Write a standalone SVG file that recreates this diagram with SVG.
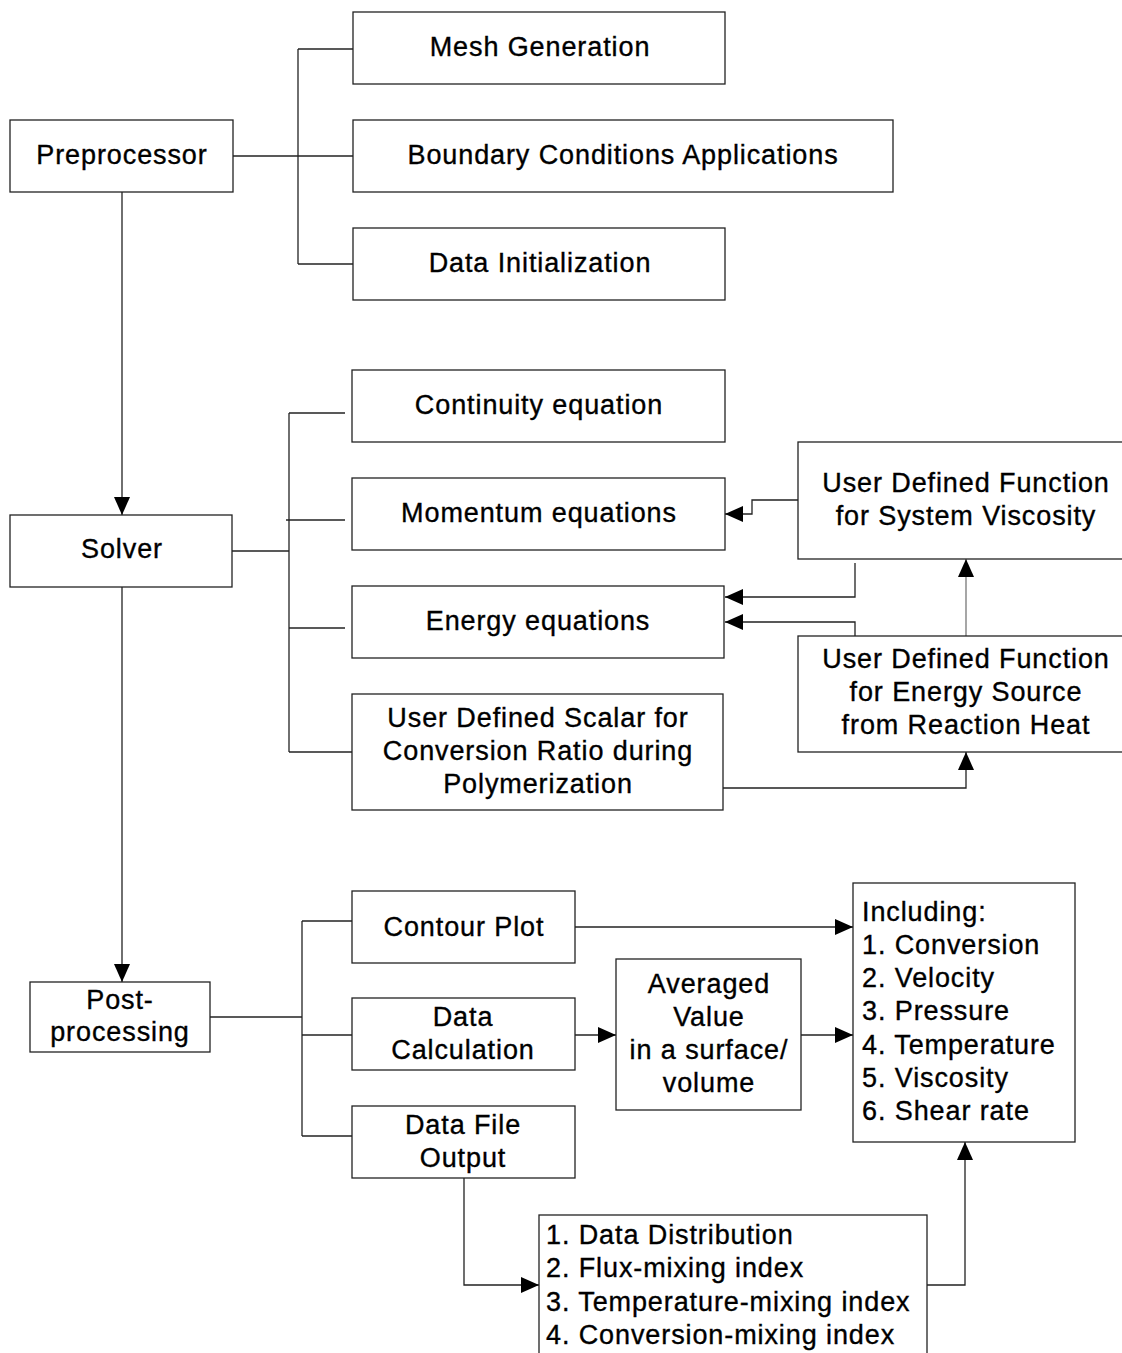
<svg xmlns="http://www.w3.org/2000/svg" width="1122" height="1353" viewBox="0 0 1122 1353">
<style>
.box{fill:#fff;stroke:#222;stroke-width:1.3}
.t{font-family:"Liberation Sans",Arial,sans-serif;font-size:27px;letter-spacing:0.9px;fill:#000;stroke:#000;stroke-width:0.35}
.c{text-anchor:middle}
.ln{fill:none;stroke:#222;stroke-width:1.3}
.g{stroke:#777}
</style>
<defs>
<marker id="ah" markerWidth="18" markerHeight="16" refX="18" refY="8" orient="auto" markerUnits="userSpaceOnUse">
<path d="M0,0 L18,8 L0,16 Z" fill="#000"/>
</marker>
</defs>
<rect width="1122" height="1353" fill="#fff"/>
<g id="connectors">
<path class="ln" d="M233,156 H353"/>
<path class="ln" d="M298,49 V264"/>
<path class="ln" d="M298,49 H353"/>
<path class="ln" d="M298,264 H353"/>
<path class="ln" d="M122,192 V515" marker-end="url(#ah)"/>
<path class="ln" d="M232,551 H289"/>
<path class="ln" d="M289,413 V752"/>
<path class="ln" d="M289,413 H345"/>
<path class="ln" d="M286,520 H345"/>
<path class="ln" d="M289,628 H345"/>
<path class="ln" d="M289,752 H352"/>
<path class="ln" d="M798,500 H752 V514 H725" marker-end="url(#ah)"/>
<path class="ln" d="M855,563 V597 H725" marker-end="url(#ah)"/>
<path class="ln" d="M855,636 V622 H725" marker-end="url(#ah)"/>
<path class="ln g" d="M966,636 V559" marker-end="url(#ah)"/>
<path class="ln" d="M723,788 H966 V752" marker-end="url(#ah)"/>
<path class="ln" d="M122,587 V982" marker-end="url(#ah)"/>
<path class="ln" d="M210,1017 H302"/>
<path class="ln" d="M302,921 V1136"/>
<path class="ln" d="M302,921 H358"/>
<path class="ln" d="M302,1035 H352"/>
<path class="ln" d="M302,1136 H358"/>
<path class="ln" d="M575,927 H853" marker-end="url(#ah)"/>
<path class="ln" d="M575,1035 H616" marker-end="url(#ah)"/>
<path class="ln" d="M801,1035 H853" marker-end="url(#ah)"/>
<path class="ln" d="M464,1178 V1285 H539" marker-end="url(#ah)"/>
<path class="ln" d="M927,1285 H965 V1142" marker-end="url(#ah)"/>
</g>
<g id="preprocessor"><rect class="box" x="10" y="120" width="223" height="72"/><text class="t c" x="122" y="164">Preprocessor</text></g>
<g id="mesh"><rect class="box" x="353" y="12" width="372" height="72"/><text class="t c" x="540" y="56">Mesh Generation</text></g>
<g id="boundary"><rect class="box" x="353" y="120" width="540" height="72"/><text class="t c" x="623" y="164">Boundary Conditions Applications</text></g>
<g id="datainit"><rect class="box" x="353" y="228" width="372" height="72"/><text class="t c" x="540" y="272">Data Initialization</text></g>
<g id="solver"><rect class="box" x="10" y="515" width="222" height="72"/><text class="t c" x="122" y="558">Solver</text></g>
<g id="continuity"><rect class="box" x="352" y="370" width="373" height="72"/><text class="t c" x="539" y="414">Continuity equation</text></g>
<g id="momentum"><rect class="box" x="352" y="478" width="373" height="72"/><text class="t c" x="539" y="522">Momentum equations</text></g>
<g id="energy"><rect class="box" x="352" y="586" width="372" height="72"/><text class="t c" x="538" y="630">Energy equations</text></g>
<g id="uds"><rect class="box" x="352" y="694" width="371" height="116"/><text class="t c" x="538" y="727">User Defined Scalar for</text><text class="t c" x="538" y="760">Conversion Ratio during</text><text class="t c" x="538" y="793">Polymerization</text></g>
<g id="udfviscosity"><rect class="box" x="798" y="442" width="330" height="117"/><text class="t c" x="966" y="492">User Defined Function</text><text class="t c" x="966" y="525">for System Viscosity</text></g>
<g id="udfenergy"><rect class="box" x="798" y="636" width="330" height="116"/><text class="t c" x="966" y="668">User Defined Function</text><text class="t c" x="966" y="701">for Energy Source</text><text class="t c" x="966" y="734">from Reaction Heat</text></g>
<g id="postprocessing"><rect class="box" x="30" y="982" width="180" height="70"/><text class="t c" x="120" y="1009">Post-</text><text class="t c" x="120" y="1041">processing</text></g>
<g id="contour"><rect class="box" x="352" y="891" width="223" height="72"/><text class="t c" x="464" y="936">Contour Plot</text></g>
<g id="datacalc"><rect class="box" x="352" y="998" width="223" height="72"/><text class="t c" x="463" y="1026">Data</text><text class="t c" x="463" y="1059">Calculation</text></g>
<g id="datafile"><rect class="box" x="352" y="1106" width="223" height="72"/><text class="t c" x="463" y="1134">Data File</text><text class="t c" x="463" y="1167">Output</text></g>
<g id="averaged"><rect class="box" x="616" y="959" width="185" height="151"/><text class="t c" x="709" y="993">Averaged</text><text class="t c" x="709" y="1026">Value</text><text class="t c" x="709" y="1059">in a surface/</text><text class="t c" x="709" y="1092">volume</text></g>
<g id="including"><rect class="box" x="853" y="883" width="222" height="259"/><text class="t" x="862" y="921">Including:</text><text class="t" x="862" y="954">1. Conversion</text><text class="t" x="862" y="987">2. Velocity</text><text class="t" x="862" y="1020">3. Pressure</text><text class="t" x="862" y="1054">4. Temperature</text><text class="t" x="862" y="1087">5. Viscosity</text><text class="t" x="862" y="1120">6. Shear rate</text></g>
<g id="mixing"><rect class="box" x="539" y="1215" width="388" height="145"/><text class="t" x="546" y="1244">1. Data Distribution</text><text class="t" x="546" y="1277">2. Flux-mixing index</text><text class="t" x="546" y="1311">3. Temperature-mixing index</text><text class="t" x="546" y="1344">4. Conversion-mixing index</text></g>
</svg>
